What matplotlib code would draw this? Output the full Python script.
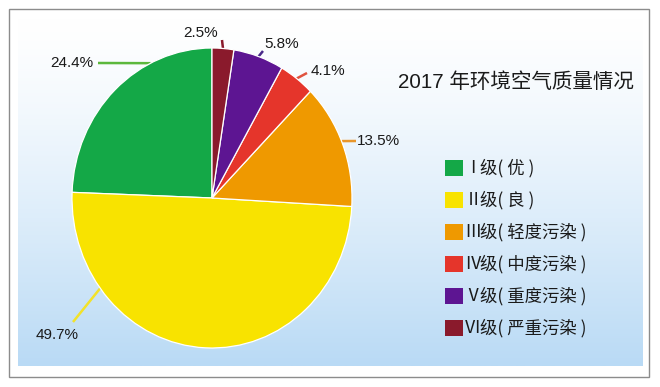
import matplotlib

matplotlib.use("Agg")
import matplotlib.patches as mpatches
import matplotlib.pyplot as plt
import numpy as np
from matplotlib.colors import to_rgb

plt.rcParams["font.family"] = ["Liberation Sans", "Noto Sans CJK SC", "DejaVu Sans"]

# data: share of days per air-quality grade, 2017
grades = ["Ⅰ", "Ⅱ", "Ⅲ", "Ⅳ", "Ⅴ", "Ⅵ"]
grade_names = ["级( 优 )", "级( 良 )", "级( 轻度污染 )", "级( 中度污染 )",
               "级( 重度污染 )", "级( 严重污染 )"]
shares = [24.4, 49.7, 13.5, 4.1, 5.8, 2.5]
title = "2017 年环境空气质量情况"

colors = ["#14a847", "#f8e300", "#ef9900", "#e5352b", "#5d1592", "#8a1a2c"]
leader_colors = ["#5cb83c", "#f2e22a", "#e9962a", "#e0533f", "#4a2a8a", "#8a1a2c"]

# layout (figure pixels, y down)
W, H = 660, 387
CX, CY, RX, RY = 212, 198, 140, 150
# angle (deg) on the pie rim where each leader starts, then leader end, text pos
leader_angle = [116, 217, 22.3, 52.8, 70.6, 85.5]
leader_end = [(98, 63), (73, 322), (356, 141), (307, 73), (263, 51), (222, 40)]
label_pos = [(93, 63, "right"), (57, 335, "center"), (357, 141, "left"),
             (311, 71, "left"), (264, 44, "left"), (201, 33, "center")]


def main():
    fig = plt.figure(figsize=(W / 100, H / 100), dpi=100)
    fig.patch.set_facecolor("white")

    bg = fig.add_axes([0, 0, 1, 1])
    bg.set_xlim(0, W)
    bg.set_ylim(H, 0)
    bg.axis("off")

    # soft white -> light blue backdrop
    top, bot = np.array(to_rgb("#ffffff")), np.array(to_rgb("#b9daf5"))
    t = np.linspace(0, 1, 256) ** 1.3
    grad = top[None, :] * (1 - t[:, None]) + bot[None, :] * t[:, None]
    bg.imshow(grad[:, None, :], extent=(18, 643, 366, 18), aspect="auto",
              interpolation="bilinear", zorder=0)
    bg.add_patch(mpatches.Rectangle((9, 9), 640, 368, facecolor="none",
                                    edgecolor="#8c8c8c", linewidth=1.0, zorder=1))

    # leader lines + percentage labels
    for i, v in enumerate(shares):
        a = np.deg2rad(leader_angle[i])
        x0, y0 = CX + RX * np.cos(a), CY - RY * np.sin(a)
        x1, y1 = leader_end[i]
        bg.plot([x0, x1], [y0, y1], color=leader_colors[i], linewidth=1.8,
                solid_capstyle="butt", zorder=2)
        tx, ty, ha = label_pos[i]
        bg.text(tx, ty, f"{v}%", ha=ha, va="center", fontsize=11,
                color="#1a1a1a", zorder=3)

    # pie (slightly taller than wide, like the source)
    ax = fig.add_axes([(CX - RX) / W, (H - CY - RY) / H, 2 * RX / W, 2 * RY / H])
    ax.pie(shares, colors=colors, startangle=90, counterclock=True,
           wedgeprops=dict(edgecolor="white", linewidth=0.9))
    ax.set_aspect("auto")
    ax.set_xlim(-1, 1)
    ax.set_ylim(-1, 1)
    ax.axis("off")

    bg.text(398, 82, title, ha="left", va="center", fontsize=14.8,
            color="#1a1a1a", zorder=3)

    # legend
    for i, (g, name) in enumerate(zip(grades, grade_names)):
        y = 168 + i * 32
        bg.add_patch(mpatches.Rectangle((445, y - 8), 18, 16,
                                        facecolor=colors[i], edgecolor="none",
                                        zorder=3))
        bg.text(473, y, g, ha="center", va="center", fontsize=12.5,
                color="#1a1a1a", family=["Noto Sans CJK SC"], zorder=3)
        bg.text(480, y, name, ha="left", va="center", fontsize=12.5,
                color="#1a1a1a", family=["Noto Sans CJK SC"], zorder=3)

    fig.savefig("out.png", dpi=100, facecolor=fig.get_facecolor())
    plt.close(fig)


if __name__ == "__main__":
    main()
